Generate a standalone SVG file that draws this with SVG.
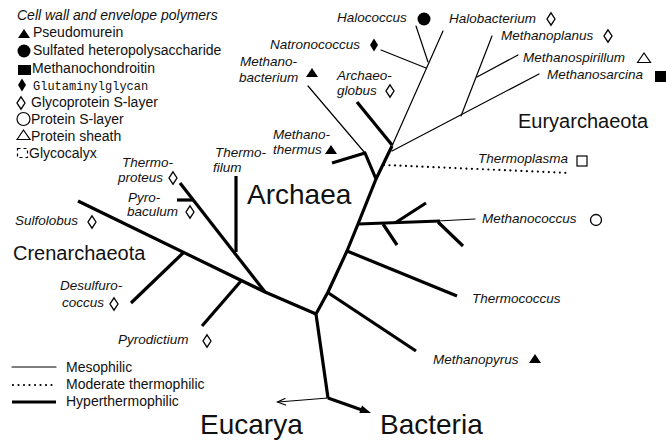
<svg xmlns="http://www.w3.org/2000/svg" width="666" height="441" viewBox="0 0 666 441">
<defs>
<path id="dH" d="M0,-6.2 L4,0 L0,6.2 L-4,0 Z" fill="none" stroke="#000" stroke-width="1.3"/>
<path id="dF" d="M0,-6.5 L4,0 L0,6.5 L-4,0 Z" fill="#000"/>
<path id="tF" d="M-6,4 L0,-5 L6,4 Z" fill="#000"/>
<path id="tH" d="M-6.5,4.5 L0,-5 L6.5,4.5 Z" fill="none" stroke="#000" stroke-width="1.2"/>
</defs>
<style>
.thin{stroke:#000;stroke-width:1.2;fill:none;stroke-linecap:round}
.thick{stroke:#000;stroke-width:3.2;fill:none;stroke-linejoin:round}
.dot{stroke:#000;stroke-width:2.2;fill:none;stroke-dasharray:0 5.5;stroke-linecap:round}
text{font-family:"Liberation Sans",Arial,sans-serif;fill:#111}
.sp{font-style:italic;font-size:13.5px}
.lg{font-size:14px}
.mono{font-family:"Liberation Mono","DejaVu Sans Mono",monospace;font-size:12px}
.big{font-size:28px}
.grp{font-size:20px}
</style>
<rect width="666" height="441" fill="#fff"/>

<g id="legend">
<text class="lg" x="17" y="20" font-style="italic">Cell wall and envelope polymers</text>
<use href="#tF" x="24" y="34"/>
<text class="lg" x="33" y="37">Pseudomurein</text>
<circle cx="24" cy="51" r="6.5" fill="#000"/>
<text class="lg" x="33" y="55">Sulfated heteropolysaccharide</text>
<rect x="18" y="65" width="13" height="10" fill="#000"/>
<text class="lg" x="32" y="73">Methanochondroitin</text>
<use href="#dF" x="22" y="85"/>
<text class="mono" x="33" y="90">Glutaminylglycan</text>
<use href="#dH" x="21" y="103"/>
<text class="lg" x="31" y="107">Glycoprotein S-layer</text>
<circle cx="23.5" cy="119" r="6.5" fill="none" stroke="#000" stroke-width="1.2"/>
<text class="lg" x="31" y="124">Protein S-layer</text>
<use href="#tH" x="23.5" y="135"/>
<text class="lg" x="31" y="141">Protein sheath</text>
<rect x="17.5" y="148.5" width="10" height="9" fill="none" stroke="#000" stroke-width="1.2" stroke-dasharray="3 3"/>
<text class="lg" x="29" y="158">Glycocalyx</text>
<path class="thin" d="M12,367 H56"/>
<path class="dot" d="M13,385 H56"/>
<path d="M12,402 H56" stroke="#000" stroke-width="3"/>
<text class="lg" x="66" y="372">Mesophilic</text>
<text class="lg" x="66" y="389">Moderate thermophilic</text>
<text class="lg" x="66" y="406">Hyperthermophilic</text>
</g>

<g id="connectors">
<path class="thin" d="M308,86 L365,153"/>
<path class="thin" d="M392,146 L443,31"/>
<path class="thin" d="M416,26 L428,62"/>
<path class="thin" d="M381,50 L426,68"/>
<path class="thin" d="M392,151 L539,74"/>
<path class="thin" d="M461,116 L492,36"/>
<path class="thin" d="M477,77 L518,55"/>
<path class="thin" d="M438,221 L475,219"/>
<path class="dot" d="M384,165 L570,173"/>
<path class="thick" d="M332,163 L365,153 L376,179"/>
<path class="thick" d="M357,102 L392,145"/>
<path class="thick" d="M392,146 L376,179 L358,224 L347,251 L328,292 L316,314 L328,398"/>
<path class="thick" d="M358,224 L440,221"/>
<path class="thick" d="M395,223 L426,203"/>
<path class="thick" d="M383,224 L397,245"/>
<path class="thick" d="M438,222 L463,246"/>
<path class="thick" d="M347,251 L457,296"/>
<path class="thick" d="M327,292 L416,351"/>
<path class="thick" d="M316,314 L265,292 L78,201"/>
<path class="thick" d="M265,292 L180,183"/>
<path class="thick" d="M236,176 L236,252"/>
<path class="thick" d="M177,200 L193,200"/>
<path class="thick" d="M183,253 L131,303"/>
<path class="thick" d="M241,281 L202,326"/>
<path class="thin" d="M328,398 L278,402"/>
<path class="thin" d="M285,398.5 L277.5,402 L285.5,405"/>
<path class="thick" d="M328,398 L362,410"/>
<path d="M371,413 L362,405.5 L359.3,413 Z" fill="#000"/>
</g>

<g id="halococcus"><text class="sp" x="337" y="22">Halococcus</text><circle cx="424" cy="19" r="6.5" fill="#000"/></g>
<g id="halobacterium"><text class="sp" x="449" y="23">Halobacterium</text><use href="#dH" x="551" y="19"/></g>
<g id="methanoplanus"><text class="sp" x="501" y="40">Methanoplanus</text><use href="#dH" x="608" y="36"/></g>
<g id="methanospirillum"><text class="sp" x="523" y="62">Methanospirillum</text><use href="#tH" x="644" y="58"/></g>
<g id="methanosarcina"><text class="sp" x="547" y="79">Methanosarcina</text><rect x="655" y="71" width="11" height="11" fill="#000"/></g>
<g id="natronococcus"><text class="sp" x="270" y="49">Natronococcus</text><use href="#dF" x="374" y="45"/></g>
<g id="methanobacterium"><text class="sp" x="240" y="66">Methano-</text><text class="sp" x="239" y="82">bacterium</text><use href="#tF" x="312" y="73"/></g>
<g id="archaeoglobus"><text class="sp" x="337" y="80">Archaeo-</text><text class="sp" x="337" y="95">globus</text><use href="#dH" x="390" y="91"/></g>
<g id="methanothermus"><text class="sp" x="273" y="139">Methano-</text><text class="sp" x="273" y="154">thermus</text><use href="#tF" x="331" y="150"/></g>
<g id="thermofilum"><text class="sp" x="215" y="157">Thermo-</text><text class="sp" x="213" y="172">filum</text></g>
<g id="thermoproteus"><text class="sp" x="122" y="167">Thermo-</text><text class="sp" x="118" y="182">proteus</text><use href="#dH" x="173" y="178"/></g>
<g id="pyrobaculum"><text class="sp" x="128" y="202">Pyro-</text><text class="sp" x="127" y="216">baculum</text><use href="#dH" x="190" y="212"/></g>
<g id="sulfolobus"><text class="sp" x="15" y="225">Sulfolobus</text><use href="#dH" x="92" y="222"/></g>
<g id="desulfurococcus"><text class="sp" x="60" y="290">Desulfuro-</text><text class="sp" x="62" y="307">coccus</text><use href="#dH" x="114" y="304"/></g>
<g id="pyrodictium"><text class="sp" x="118" y="344">Pyrodictium</text><use href="#dH" x="207" y="341"/></g>
<g id="thermoplasma"><text class="sp" x="478" y="163">Thermoplasma</text><rect x="577" y="156" width="10" height="10" fill="none" stroke="#000" stroke-width="1.2"/></g>
<g id="methanococcus"><text class="sp" x="482" y="223">Methanococcus</text><circle cx="596" cy="220" r="5.5" fill="none" stroke="#000" stroke-width="1.3"/></g>
<g id="thermococcus"><text class="sp" x="472" y="303">Thermococcus</text></g>
<g id="methanopyrus"><text class="sp" x="433" y="364">Methanopyrus</text><use href="#tF" x="535" y="359"/></g>

<g id="labels">
<text class="big" x="247" y="204">Archaea</text>
<text class="grp" x="518" y="128">Euryarchaeota</text>
<text class="grp" x="13" y="260">Crenarchaeota</text>
<text class="big" x="200" y="434">Eucarya</text>
<text class="big" x="380" y="434">Bacteria</text>
</g>
</svg>
